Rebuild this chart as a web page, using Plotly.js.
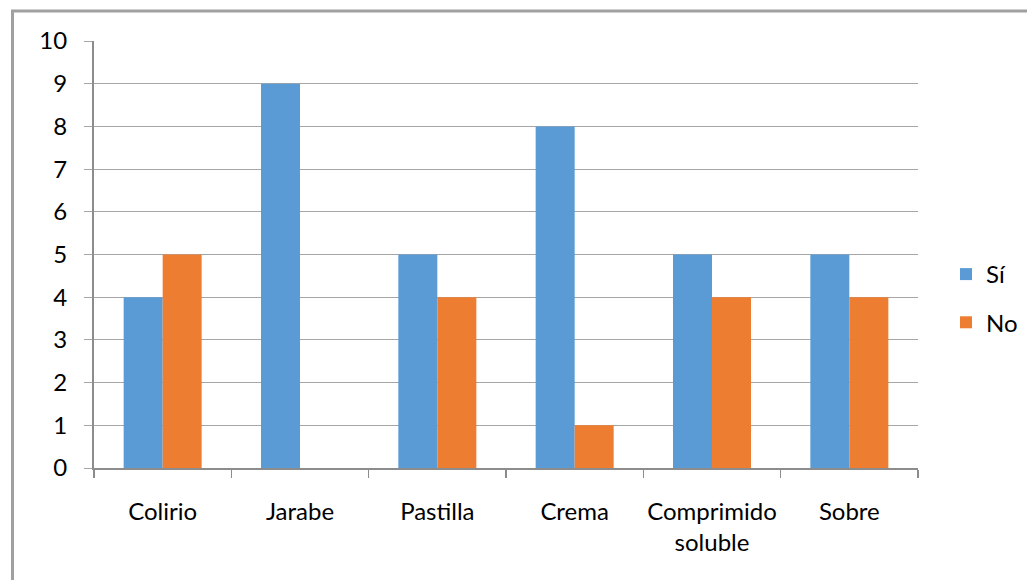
<!DOCTYPE html>
<html>
<head>
<meta charset="utf-8">
<script src="https://cdn.plot.ly/plotly-3.0.1.min.js"></script>
<style>
  html, body { margin: 0; padding: 0; background: #fff; }
  #chart { width: 1027px; height: 580px; }
</style>
</head>
<body>
<div id="chart"></div>
<script>
// Forma farmacéutica: respuestas Sí / No
const categories = ['Colirio', 'Jarabe', 'Pastilla', 'Crema', 'Comprimido<br>soluble', 'Sobre'];
const valuesSi = [4, 9, 5, 8, 5, 5];
const valuesNo = [5, 0, 4, 1, 4, 4];
const seriesNames = ['Sí', 'No'];
const yTicks = [0, 1, 2, 3, 4, 5, 6, 7, 8, 9, 10];

const W = 1027, H = 580;
const M = { l: 94, r: 109, t: 41, b: 112, autoexpand: false };
const plotW = W - M.l - M.r, plotH = H - M.t - M.b;
// convert pixel positions to paper coordinates for the frame and legend
const px = x => (x - M.l) / plotW;
const py = y => (H - M.b - y) / plotH;

const traces = [
  {
    type: 'bar', name: seriesNames[0], x: categories, y: valuesSi,
    marker: { color: '#5B9BD5' },
    legendgroup: 'a', hoverinfo: 'x+y'
  },
  {
    type: 'bar', name: seriesNames[1], x: categories, y: valuesNo,
    marker: { color: '#ED7D31' },
    legendgroup: 'b', hoverinfo: 'x+y'
  }
];

const layout = {
  width: W, height: H,
  margin: M,
  paper_bgcolor: '#fff', plot_bgcolor: '#fff',
  font: { family: 'Lato, "Liberation Sans", sans-serif', size: 24, color: '#000' },
  barmode: 'group', bargap: 0.432, bargroupgap: 0,
  xaxis: {
    type: 'category', tickangle: 0,
    showline: true, linecolor: '#8C8C8C', linewidth: 2,
    ticks: 'outside', tickson: 'boundaries', ticklen: 8, tickcolor: '#8C8C8C', tickwidth: 1.5,
    showgrid: false, zeroline: false,
    ticklabelstandoff: 21,
    fixedrange: true
  },
  yaxis: {
    range: [0, 10], tickvals: yTicks, ticktext: yTicks.map(String),
    showline: true, linecolor: '#8C8C8C', linewidth: 2,
    ticks: 'outside', ticklen: 8, tickcolor: '#A6A6A6', tickwidth: 1,
    showgrid: true, gridcolor: '#A6A6A6', gridwidth: 1,
    zeroline: false, ticklabelstandoff: 12,
    fixedrange: true
  },
  legend: {
    x: px(946), y: py(252), xanchor: 'left', yanchor: 'top',
    traceorder: 'grouped', tracegroupgap: 14,
    font: { size: 24 }, bgcolor: 'rgba(0,0,0,0)'
  },
  shapes: [
    { type: 'line', xref: 'paper', yref: 'paper', x0: px(12.5), x1: px(12.5), y0: py(10), y1: py(H + 5),
      line: { color: '#A0A0A0', width: 3 } },
    { type: 'line', xref: 'paper', yref: 'paper', x0: px(11), x1: px(W + 5), y0: py(11), y1: py(11),
      line: { color: '#A0A0A0', width: 3 } }
  ]
};

Plotly.newPlot('chart', traces, layout, { displayModeBar: false, staticPlot: true });
</script>
</body>
</html>
